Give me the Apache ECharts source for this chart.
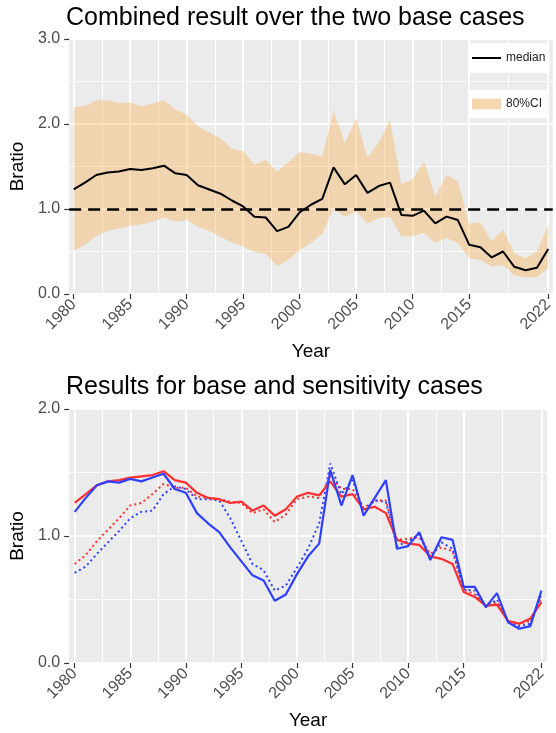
<!DOCTYPE html>
<html lang="en">
<head>
    <meta charset="UTF-8">
    <title>Bratio</title>
    <script type="text/javascript" src="https://cdn.jsdelivr.net/npm/echarts@6/dist/echarts.min.js"></script>
    <style>
        html, body { margin: 0; padding: 0; background: #fff; }
    </style>
</head>
<body>
    <div id="chart1" style="width:556px;height:733px;"></div>
<script type="text/javascript">
    var years = [1980,1981,1982,1983,1984,1985,1986,1987,1988,1989,1990,1991,1992,1993,1994,1995,1996,1997,1998,1999,2000,
                 2001,2002,2003,2004,2005,2006,2007,2008,2009,2010,2011,2012,2013,2014,2015,2016,2017,2018,2019,2020,2021,2022];
    var yearTicks = [1980,1985,1990,1995,2000,2005,2010,2015,2022];
    var yearMinor = [1982.5,1987.5,1992.5,1997.5,2002.5,2007.5,2012.5,2018.5];

    // top: combined result
    var median  = [1.23,1.31,1.40,1.43,1.44,1.47,1.46,1.48,1.51,1.42,1.40,1.28,1.23,1.18,1.10,1.03,0.91,0.90,0.74,0.79,0.96,
                   1.05,1.12,1.49,1.29,1.40,1.19,1.27,1.31,0.93,0.92,0.98,0.83,0.91,0.87,0.58,0.55,0.43,0.50,0.32,0.28,0.31,0.53];
    var ciUpper = [2.20,2.21,2.28,2.28,2.25,2.25,2.21,2.24,2.28,2.17,2.11,1.97,1.90,1.83,1.71,1.68,1.52,1.58,1.44,1.55,1.67,
                   1.65,1.62,2.16,1.77,2.07,1.61,1.78,2.05,1.29,1.35,1.56,1.15,1.40,1.33,0.83,0.84,0.62,0.76,0.48,0.42,0.50,0.81];
    var ciLower = [0.51,0.58,0.68,0.74,0.77,0.80,0.82,0.85,0.90,0.85,0.87,0.79,0.74,0.67,0.61,0.56,0.49,0.47,0.33,0.40,0.52,
                   0.60,0.71,1.01,0.91,0.97,0.83,0.89,0.91,0.68,0.68,0.72,0.60,0.66,0.60,0.42,0.40,0.32,0.34,0.22,0.19,0.20,0.30];

    // bottom: base and sensitivity cases
    var redSolid  = [1.26,1.33,1.40,1.43,1.44,1.46,1.47,1.48,1.51,1.44,1.42,1.34,1.30,1.29,1.26,1.27,1.20,1.24,1.16,1.21,1.31,
                     1.34,1.32,1.43,1.31,1.33,1.21,1.23,1.18,0.97,0.94,0.93,0.84,0.82,0.78,0.56,0.52,0.45,0.46,0.33,0.31,0.35,0.48];
    var redDot    = [0.78,0.85,0.96,1.05,1.14,1.24,1.26,1.33,1.41,1.38,1.38,1.31,1.30,1.29,1.27,1.26,1.18,1.21,1.11,1.17,1.29,
                     1.31,1.30,1.47,1.37,1.37,1.22,1.28,1.28,0.97,0.98,0.99,0.86,0.91,0.88,0.58,0.54,0.45,0.48,0.33,0.31,0.33,0.52];
    var blueSolid = [1.19,1.30,1.40,1.43,1.42,1.45,1.43,1.46,1.49,1.37,1.34,1.18,1.10,1.03,0.91,0.80,0.69,0.65,0.49,0.54,0.70,
                     0.84,0.94,1.52,1.24,1.48,1.16,1.30,1.44,0.90,0.92,1.03,0.81,0.99,0.97,0.60,0.60,0.44,0.55,0.32,0.27,0.29,0.57];
    var blueDot   = [0.71,0.76,0.86,0.95,1.04,1.14,1.19,1.20,1.33,1.39,1.37,1.29,1.29,1.28,1.14,0.96,0.78,0.73,0.57,0.61,0.75,
                     0.90,1.10,1.57,1.33,1.44,1.20,1.28,1.27,0.92,0.96,1.01,0.83,0.95,0.90,0.58,0.57,0.44,0.50,0.33,0.29,0.31,0.54];

    var font = 'Liberation Sans, Arial, Helvetica, sans-serif';

    function pairs(vals) {
        return years.map(function (y, i) { return [y, vals[i]]; });
    }

    function majorX(grid, min, max) {
        return {
            type: 'value', gridIndex: grid, min: min, max: max,
            axisLine: { show: false },
            axisTick: { show: true, length: 5, customValues: yearTicks, lineStyle: { color: '#333', width: 1.2 } },
            axisLabel: { customValues: yearTicks, rotate: 45, margin: 8, fontSize: 16, color: '#4D4D4D',
                         fontFamily: font, formatter: function (v) { return String(v); } },
            splitLine: { show: true, lineStyle: { color: '#fff', width: 1.8 } },
            name: 'Year', nameLocation: 'middle', nameGap: 48,
            nameTextStyle: { fontSize: 19, color: '#000', fontFamily: font }
        };
    }
    function minorX(grid, min, max) {
        return {
            type: 'value', gridIndex: grid, min: min, max: max, position: 'top',
            axisLine: { show: false },
            axisTick: { show: false, customValues: yearMinor },
            axisLabel: { show: false, customValues: yearMinor },
            splitLine: { show: true, lineStyle: { color: '#fff', width: 0.9 } }
        };
    }
    function valueY(grid, max) {
        return {
            type: 'value', gridIndex: grid, min: 0, max: max, interval: 1,
            axisLine: { show: false },
            axisTick: { show: true, length: 5, lineStyle: { color: '#333', width: 1.2 } },
            axisLabel: { margin: 9, fontSize: 16, color: '#4D4D4D', fontFamily: font,
                         formatter: function (v) { return v.toFixed(1); } },
            splitLine: { show: true, lineStyle: { color: '#fff', width: 1.8 } },
            minorTick: { show: false, splitNumber: 2 },
            minorSplitLine: { show: true, lineStyle: { color: '#fff', width: 0.9 } },
            name: 'Bratio', nameLocation: 'middle', nameGap: 42,
            nameTextStyle: { fontSize: 19, color: '#000', fontFamily: font }
        };
    }

    // 80% CI band: one polygon along the upper bound and back along the lower bound
    function renderBand(params, api) {
        if (params.dataIndexInside !== 0) return null;
        var up = [], low = [];
        for (var j = 0; j < params.dataInsideLength; j++) {
            up.push(api.coord([api.value(0, j), api.value(2, j)]));
            low.push(api.coord([api.value(0, j), api.value(1, j)]));
        }
        return {
            type: 'polygon',
            silent: true,
            shape: { points: up.concat(low.reverse()) },
            style: { fill: 'rgba(250,165,50,0.32)' }
        };
    }

    var chart = echarts.init(document.getElementById('chart1'));
    var option = {
        animation: false,
        textStyle: { fontFamily: font },
        title: [
            { text: 'Combined result over the two base cases', left: 66, top: 6, padding: 0,
              textStyle: { fontSize: 25, fontWeight: 'normal', color: '#000', fontFamily: font } },
            { text: 'Results for base and sensitivity cases', left: 66, top: 375, padding: 0,
              textStyle: { fontSize: 25, fontWeight: 'normal', color: '#000', fontFamily: font } }
        ],
        legend: [
            { data: [{ name: 'median', icon: 'rect' }], left: 468, top: 43, padding: [9, 4, 9, 4],
              backgroundColor: '#fff', itemWidth: 29, itemHeight: 2, selectedMode: false,
              textStyle: { fontSize: 12, color: '#222', fontFamily: font } },
            { data: [{ name: '80%CI', icon: 'rect', itemStyle: { color: '#F6D8B0' } }], left: 468, top: 90,
              padding: [8, 6, 8, 4], backgroundColor: '#fff', itemWidth: 29, itemHeight: 11, selectedMode: false,
              textStyle: { fontSize: 12, color: '#222', fontFamily: font } }
        ],
        grid: [
            { left: 67, right: 0, top: 39, height: 255, show: true, backgroundColor: '#EBEBEB', borderWidth: 0 },
            { left: 66, right: 9, top: 409, height: 254, show: true, backgroundColor: '#EBEBEB', borderWidth: 0 }
        ],
        xAxis: [
            majorX(0, 1979.6, 2022.4), minorX(0, 1979.6, 2022.4),
            majorX(1, 1979.5, 2022.5), minorX(1, 1979.5, 2022.5)
        ],
        yAxis: [valueY(0, 3), valueY(1, 2)],
        series: [
            { name: '80%CI', type: 'custom', xAxisIndex: 0, yAxisIndex: 0, z: 1,
              data: years.map(function (y, i) { return [y, ciLower[i], ciUpper[i]]; }),
              encode: { x: 0, y: [1, 2] },
              itemStyle: { color: '#F6D8B0' },
              renderItem: renderBand },
            { name: 'median', type: 'line', xAxisIndex: 0, yAxisIndex: 0, data: pairs(median), z: 4,
              symbol: 'none', itemStyle: { color: '#000' }, lineStyle: { color: '#000', width: 2 },
              markLine: { silent: true, symbol: 'none', label: { show: false },
                          lineStyle: { color: '#000', width: 2.5, type: [12, 7] },
                          data: [{ yAxis: 1 }] } },

            { name: 'redDot', type: 'line', xAxisIndex: 2, yAxisIndex: 1, data: pairs(redDot),
              symbol: 'none', lineStyle: { color: '#FF3030', width: 2, type: [2, 3] } },
            { name: 'blueDot', type: 'line', xAxisIndex: 2, yAxisIndex: 1, data: pairs(blueDot),
              symbol: 'none', lineStyle: { color: '#2E40FF', width: 2, type: [2, 3] } },
            { name: 'redSolid', type: 'line', xAxisIndex: 2, yAxisIndex: 1, data: pairs(redSolid),
              symbol: 'none', lineStyle: { color: '#FF3030', width: 2.2 } },
            { name: 'blueSolid', type: 'line', xAxisIndex: 2, yAxisIndex: 1, data: pairs(blueSolid),
              symbol: 'none', lineStyle: { color: '#2E40FF', width: 2.2 } }
        ]
    };
    chart.setOption(option);
</script>
</body>
</html>
